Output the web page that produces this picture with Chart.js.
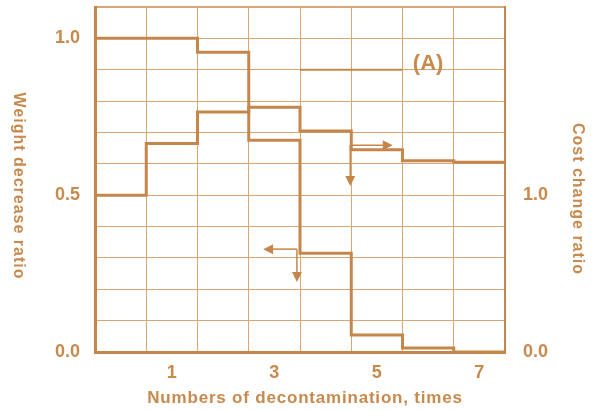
<!DOCTYPE html>
<html>
<head>
  <title>Weight decrease and cost change ratio</title>
  <script src="https://cdn.jsdelivr.net/npm/chart.js"></script>
  <style>
    body { margin: 0; background: #fff; }
    #wrap { width: 597px; height: 411px; }
  </style>
</head>
<body>
  <div id="wrap"><canvas id="chart"></canvas></div>
  <script>
    // Data
    const times = [0, 1, 2, 3, 4, 5, 6, 7];
    const weightRatio = [1.0, 1.0, 0.956, 0.675, 0.315, 0.054, 0.013, 0.0];
    const costRatio = [1.0, 1.33, 1.53, 1.56, 1.41, 1.29, 1.22, 1.21];
    const xTickLabels = [1, 3, 5, 7];
    const leftTickLabels = [0.0, 0.5, 1.0];
    const rightTickLabels = [0.0, 1.0];

    // thin marker line at weight 0.9 between counts 4 and 5
    const refTimes = [3.5, 5.5];
    const refWeight = [0.9, 0.9];

    const BROWN = '#c4864a';
    const GRID = '#d6a674';
    const TEXT = '#c8894d';
    const FONT = '"Liberation Sans", Arial, sans-serif';

    // step points sit on the column edges, last one closes at the right border
    function stepPoints(vals) {
      const pts = times.map((t, i) => ({ x: t - 0.5, y: vals[i] }));
      pts.push({ x: times[times.length - 1] + 0.5, y: vals[vals.length - 1] });
      return pts;
    }

    function hasLabel(list, v) {
      return list.some(t => Math.abs(t - v) < 1e-6);
    }

    const extras = {
      id: 'extras',
      afterDatasetsDraw(chart) {
        const { ctx, scales } = chart;
        const x = scales.x, y = scales.y;
        const px = v => x.getPixelForValue(v);
        const py = v => y.getPixelForValue(v);

        function arrow(x0, y0, x1, y1) {
          const a = Math.atan2(y1 - y0, x1 - x0);
          const len = 10, half = 5;
          ctx.beginPath();
          ctx.moveTo(x0, y0);
          ctx.lineTo(x1 - Math.cos(a) * len, y1 - Math.sin(a) * len);
          ctx.stroke();
          ctx.beginPath();
          ctx.moveTo(x1, y1);
          ctx.lineTo(x1 - Math.cos(a) * len - Math.sin(a) * half, y1 - Math.sin(a) * len + Math.cos(a) * half);
          ctx.lineTo(x1 - Math.cos(a) * len + Math.sin(a) * half, y1 - Math.sin(a) * len - Math.cos(a) * half);
          ctx.closePath();
          ctx.fill();
        }

        ctx.save();
        ctx.strokeStyle = BROWN;
        ctx.fillStyle = BROWN;
        ctx.lineWidth = 1.5;
        // weight arrow (points to left axis)
        arrow(px(3.44), py(0.328), px(2.78), py(0.328));
        arrow(px(3.44), py(0.328), px(3.44), py(0.223));
        // cost arrow (points to right axis)
        arrow(px(4.48), py(0.659), px(5.31), py(0.659));
        arrow(px(4.48), py(0.659), px(4.48), py(0.529));

        ctx.fillStyle = TEXT;
        ctx.font = 'bold 22px ' + FONT;
        ctx.textAlign = 'center';
        ctx.textBaseline = 'middle';
        ctx.fillText('(A)', px(6.0), py(0.92));

        // axis titles
        ctx.letterSpacing = '0.8px';
        ctx.font = 'bold 17px ' + FONT;
        ctx.fillText('Numbers of decontamination, times', 305, 398);

        ctx.letterSpacing = '1px';
        ctx.font = 'bold 16px ' + FONT;
        ctx.save();
        ctx.translate(18, 186);
        ctx.rotate(Math.PI / 2);
        ctx.fillText('Weight decrease ratio', 0, 0);
        ctx.restore();

        ctx.save();
        ctx.translate(577, 199);
        ctx.rotate(Math.PI / 2);
        ctx.fillText('Cost change ratio', 0, 0);
        ctx.restore();
        ctx.restore();
      }
    };

    new Chart(document.getElementById('chart'), {
      type: 'line',
      data: {
        datasets: [
          {
            label: 'Weight decrease ratio',
            data: stepPoints(weightRatio),
            yAxisID: 'y',
            stepped: 'before',
            borderColor: BROWN,
            borderWidth: 3,
            pointRadius: 0,
            fill: false
          },
          {
            label: 'Cost change ratio',
            data: stepPoints(costRatio),
            yAxisID: 'y2',
            stepped: 'before',
            borderColor: BROWN,
            borderWidth: 3,
            pointRadius: 0,
            fill: false
          },
          {
            label: 'ref',
            data: refTimes.map((t, i) => ({ x: t, y: refWeight[i] })),
            yAxisID: 'y',
            borderColor: BROWN,
            borderWidth: 2,
            pointRadius: 0,
            fill: false
          }
        ]
      },
      options: {
        responsive: true,
        maintainAspectRatio: false,
        animation: false,
        layout: { padding: { top: 7, left: 0, right: 0, bottom: 0 } },
        plugins: { legend: { display: false }, tooltip: { enabled: false } },
        scales: {
          x: {
            type: 'linear',
            min: -0.5,
            max: 7.5,
            afterBuildTicks(axis) {
              const t = [];
              for (let v = -0.5; v <= 7.5; v += 0.5) t.push({ value: v });
              axis.ticks = t;
            },
            afterFit(axis) {
              axis.height = 59;
              axis.paddingLeft = 0;
              axis.paddingRight = 0;
            },
            ticks: {
              autoSkip: false,
              maxRotation: 0,
              padding: 10,
              color: TEXT,
              font: { family: FONT, size: 18, weight: 'bold' },
              callback: v => hasLabel(xTickLabels, v) ? String(v) : ''
            },
            grid: {
              drawTicks: false,
              color: ctx => Number.isInteger(ctx.tick.value + 0.5) ? GRID : 'rgba(0,0,0,0)',
              lineWidth: 1
            },
            border: { color: BROWN, width: 3 }
          },
          y: {
            position: 'left',
            min: 0,
            max: 1.1,
            afterFit(axis) {
              axis.width = 95;
              axis.paddingTop = 0;
              axis.paddingBottom = 0;
            },
            ticks: {
              stepSize: 0.1,
              padding: 15,
              color: TEXT,
              font: { family: FONT, size: 18, weight: 'bold' },
              callback: v => hasLabel(leftTickLabels, v) ? v.toFixed(1) : ''
            },
            grid: {
              drawTicks: false,
              color: GRID,
              lineWidth: ctx => ctx.index === ctx.scale.ticks.length - 1 ? 2 : 1
            },
            border: { color: BROWN, width: 3 }
          },
          y2: {
            position: 'right',
            min: 0,
            max: 2.2,
            afterFit(axis) {
              axis.width = 92;
              axis.paddingTop = 0;
              axis.paddingBottom = 0;
            },
            ticks: {
              stepSize: 0.2,
              padding: 18,
              color: TEXT,
              font: { family: FONT, size: 18, weight: 'bold' },
              callback: v => hasLabel(rightTickLabels, v) ? v.toFixed(1) : ''
            },
            grid: { display: false, drawTicks: false },
            border: { color: BROWN, width: 2 }
          }
        }
      },
      plugins: [extras]
    });
  </script>
</body>
</html>
